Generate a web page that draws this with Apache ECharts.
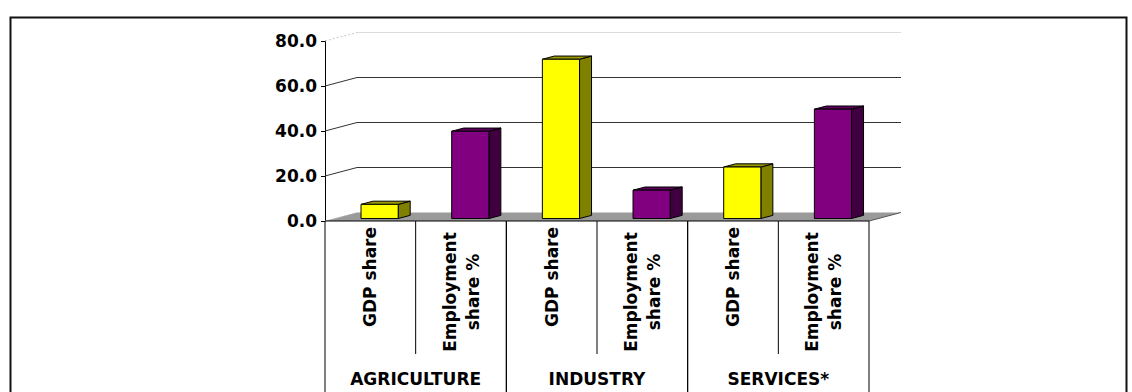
<!DOCTYPE html>
<html>
<head>
<meta charset="utf-8">
<script src="https://cdn.jsdelivr.net/npm/echarts@6/dist/echarts.min.js"></script>
<style>
  html, body { margin: 0; padding: 0; background: #fff; }
  #chart { width: 1132px; height: 392px; }
</style>
</head>
<body>
<div id="chart"></div>
<script>
// Sector shares of GDP and of employment (%)
const categories = ['GDP share', 'Employment\nshare %', 'GDP share', 'Employment\nshare %', 'GDP share', 'Employment\nshare %'];
const groups = ['AGRICULTURE', 'INDUSTRY', 'SERVICES*'];
const gdpShare = [6.3, 70.8, 22.9];
const employmentShare = [38.8, 12.6, 48.6];
const yTicks = [0, 20, 40, 60, 80];

// Pseudo-3D projection: offset of the back wall relative to the front plane
const DEPTH_X = 32;
const DEPTH_Y = -8.5;
const BAR_WIDTH_RATIO = 0.41;   // bar width as a fraction of the category band
const BAR_FRONT = 0.29;         // bar front face position along the depth
const BAR_DEPTH = 0.375;        // bar thickness along the depth
const FONT = '"DejaVu Sans", Verdana, sans-serif';

const gdpData = gdpShare.map((v, i) => [2 * i, v]);
const empData = employmentShare.map((v, i) => [2 * i + 1, v]);

function barRenderer(colors) {
  return function (params, api) {
    const c = api.value(0);
    const v = api.value(1);
    const band = api.size([1, 0])[0];
    const w = band * BAR_WIDTH_RATIO;
    const base = api.coord([c, 0]);
    const tip = api.coord([c, v]);
    const ox = DEPTH_X * BAR_FRONT, oy = DEPTH_Y * BAR_FRONT;
    const dx = DEPTH_X * BAR_DEPTH, dy = DEPTH_Y * BAR_DEPTH;
    const x0 = base[0] - w / 2 + ox;
    const x1 = x0 + w;
    const yb = base[1] + oy;
    const yt = tip[1] + oy;
    const line = { stroke: '#000', lineWidth: 1, lineJoin: 'round' };
    return {
      type: 'group',
      children: [
        { type: 'polygon', shape: { points: [[x1, yb], [x1, yt], [x1 + dx, yt + dy], [x1 + dx, yb + dy]] },
          style: Object.assign({ fill: colors.side }, line) },
        { type: 'polygon', shape: { points: [[x0, yt], [x1, yt], [x1 + dx, yt + dy], [x0 + dx, yt + dy]] },
          style: Object.assign({ fill: colors.top }, line) },
        { type: 'rect', shape: { x: x0, y: yt, width: w, height: yb - yt },
          style: Object.assign({ fill: colors.front }, line) }
      ]
    };
  };
}

// Back wall gridlines, their links to the value axis, and the floor
function renderWall(params, api) {
  const v = api.value(1);
  const cs = params.coordSys;
  const left = cs.x, right = cs.x + cs.width;
  const y = api.coord([0, v])[1];
  const top = yTicks[yTicks.length - 1];
  const children = [];
  if (v === 0) {
    children.push({ type: 'polygon',
      shape: { points: [[left, y], [right, y], [right + DEPTH_X, y + DEPTH_Y], [left + DEPTH_X, y + DEPTH_Y]] },
      style: { fill: '#9a9a9a' } });
    children.push({ type: 'line', shape: { x1: left, y1: y, x2: left + DEPTH_X, y2: y + DEPTH_Y },
      style: { stroke: '#c8c8c8', lineWidth: 1, lineDash: [2, 2] } });
    children.push({ type: 'line', shape: { x1: right, y1: y, x2: right + DEPTH_X, y2: y + DEPTH_Y },
      style: { stroke: '#555', lineWidth: 1 } });
  } else if (v === top) {
    children.push({ type: 'line', shape: { x1: left, y1: y, x2: left + DEPTH_X, y2: y + DEPTH_Y },
      style: { stroke: '#c8c8c8', lineWidth: 1, lineDash: [2, 2] } });
    children.push({ type: 'line', shape: { x1: left + DEPTH_X, y1: y + DEPTH_Y, x2: right + DEPTH_X, y2: y + DEPTH_Y },
      style: { stroke: '#dcdcdc', lineWidth: 1 } });
  } else {
    children.push({ type: 'polyline',
      shape: { points: [[left, y], [left + DEPTH_X, y + DEPTH_Y], [right + DEPTH_X, y + DEPTH_Y]] },
      style: { stroke: '#333', lineWidth: 1, fill: null } });
  }
  return { type: 'group', children: children };
}

// Category table under the floor: rotated labels and separators
function renderCategoryCells(params, api) {
  const i = api.value(0);
  const cs = params.coordSys;
  const baseY = cs.y + cs.height;
  const band = api.size([1, 0])[0];
  const cx = api.coord([i, 0])[0];
  const label = categories[i];
  const twoLines = label.indexOf('\n') >= 0;
  const children = [{
    type: 'text',
    x: cx,
    y: baseY + (twoLines ? 71 : 56),
    rotation: Math.PI / 2,
    style: { text: label, fill: '#000', font: 'bold 17px ' + FONT,
             align: 'center', verticalAlign: 'middle', lineHeight: 23 }
  }];
  if (i % 2 === 0) {
    children.push({ type: 'line',
      shape: { x1: cx + band / 2, y1: baseY, x2: cx + band / 2, y2: baseY + 133 },
      style: { stroke: '#000', lineWidth: 1 } });
  }
  // front edge of the floor
  children.push({ type: 'line',
    shape: { x1: cx - band / 2, y1: baseY, x2: cx + band / 2, y2: baseY },
    style: { stroke: '#000', lineWidth: 1 } });
  return { type: 'group', children: children };
}

function renderGroupCells(params, api) {
  const first = api.value(0);
  const cs = params.coordSys;
  const baseY = cs.y + cs.height;
  const band = api.size([1, 0])[0];
  const a = api.coord([first, 0])[0];
  const b = api.coord([first + 1, 0])[0];
  const left = a - band / 2, right = b + band / 2;
  const bottom = api.getHeight();
  return {
    type: 'group',
    children: [
      { type: 'line', shape: { x1: left, y1: baseY, x2: left, y2: bottom }, style: { stroke: '#000', lineWidth: 1 } },
      { type: 'line', shape: { x1: right, y1: baseY, x2: right, y2: bottom }, style: { stroke: '#000', lineWidth: 1 } },
      { type: 'text', x: (a + b) / 2, y: baseY + 158,
        style: { text: groups[params.dataIndex], fill: '#000', font: 'bold 17px ' + FONT,
                 align: 'center', verticalAlign: 'middle' } }
    ]
  };
}

const chart = echarts.init(document.getElementById('chart'), null, { renderer: 'svg' });
chart.setOption({
  animation: false,
  backgroundColor: '#fff',
  graphic: [{
    type: 'rect', left: 8, top: 15,
    shape: { width: 1116, height: 420 },
    style: { fill: null, stroke: '#111', lineWidth: 2 },
    silent: true
  }],
  grid: { left: 325, top: 41, width: 544, height: 180 },
  xAxis: {
    type: 'category',
    data: categories,
    show: false
  },
  yAxis: {
    type: 'value',
    min: 0, max: 80, interval: 20,
    axisLine: { show: true, lineStyle: { color: '#000', width: 1 } },
    axisTick: { show: true, length: 4, lineStyle: { color: '#000' } },
    splitLine: { show: false },
    axisLabel: {
      margin: 8, color: '#000', fontSize: 17, fontWeight: 'bold', fontFamily: FONT,
      formatter: v => v.toFixed(1)
    }
  },
  series: [
    { type: 'custom', name: 'wall', z: 1, clip: false, silent: true,
      data: yTicks.map(v => [0, v]), renderItem: renderWall },
    { type: 'custom', name: 'table', z: 1, clip: false, silent: true,
      data: categories.map((c, i) => [i, 0]), renderItem: renderCategoryCells },
    { type: 'custom', name: 'groups', z: 1, clip: false, silent: true,
      data: groups.map((g, i) => [2 * i, 0]), renderItem: renderGroupCells },
    { type: 'custom', name: 'GDP share', z: 3, clip: false,
      data: gdpData, renderItem: barRenderer({ front: '#ffff00', side: '#808000', top: '#9a9a00' }) },
    { type: 'custom', name: 'Employment share %', z: 3, clip: false,
      data: empData, renderItem: barRenderer({ front: '#800080', side: '#400040', top: '#5c005c' }) }
  ]
});
</script>
</body>
</html>
